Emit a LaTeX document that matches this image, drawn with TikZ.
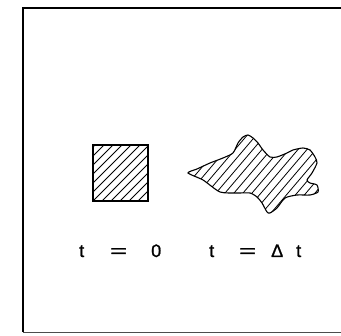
\documentclass[tikz,border=0pt]{standalone}
\usepackage{fontspec}
\setmainfont{Liberation Sans}
\newfontfamily\lblfont[FakeBold=1.2]{Liberation Sans}
\usepackage{graphicx}
\begin{document}
\begin{tikzpicture}[x=1pt,y=1pt,
  frameline/.style={line width=1.4pt,black},
  outline/.style={line width=1.1pt,black},
  hatch/.style={line width=0.8pt,black},
  lbl/.style={anchor=base west,inner sep=0pt,font=\lblfont\fontsize{18}{20}\selectfont}]
\useasboundingbox (0,0) rectangle (341,336);
% frame
\coordinate (fbl) at (23,4);
\coordinate (ftl) at (23,328);
\coordinate (ftr) at (341,328);
\coordinate (fbr) at (341,4);
\draw[frameline] (ftr) -- (ftl) -- (fbl);
\draw[line width=0.8pt,black!70] (fbl) -- (fbr);
% square
\begin{scope}
  \clip (93,135) rectangle (148,191);
  \foreach \i in {-63,-54,...,63} \draw[hatch] (93+\i,135) -- ++(70,70);
\end{scope}
\draw[outline] (93,135) rectangle (148,191);
% blob
\def\blob{plot[smooth cycle,tension=0.4] coordinates {(188,163) (203,156) (220,144) (237,143) (250,143) (257,139) (262,133) (267,124) (270,123) (277,128) (285,138) (297,141) (310,141) (318,144) (317,151) (310,153) (307,156) (312,163) (317,173) (315,179) (310,186) (303,188) (293,186) (287,183) (277,179) (270,179) (263,186) (258,193) (253,198) (248,201) (243,199) (238,193) (233,183) (223,178) (210,173) (197,167)}}
\begin{scope}
  \clip \blob;
  \foreach \i in {-99,-90,...,144} \draw[hatch] (188+\i,110) -- ++(85,100);
\end{scope}
\draw[outline] \blob;
% labels
\node[lbl] (l1) at (79,79) {\makebox[31pt][l]{t}\makebox[41pt][l]{\scalebox{1.6}[1]{=}}0};
\node[lbl] (l2) at (209,79) {\makebox[30pt][l]{t}\makebox[32pt][l]{\scalebox{1.6}[1]{=}}\makebox[25pt][l]{Δ}t};
\end{tikzpicture}
\end{document}
